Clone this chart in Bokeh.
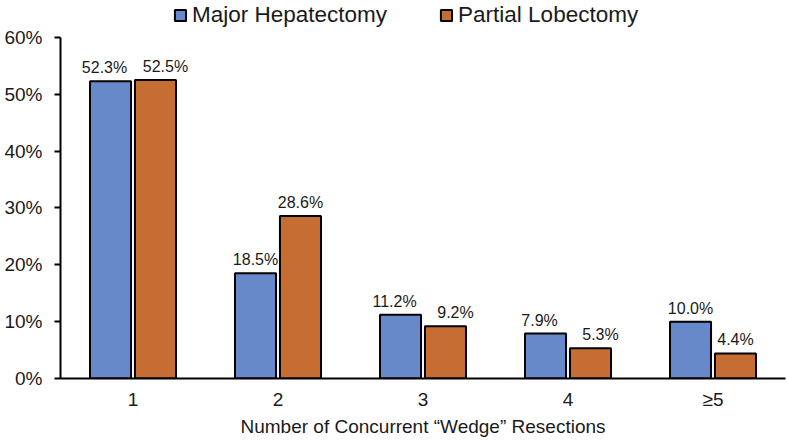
from bokeh.plotting import figure
from bokeh.models import ColumnDataSource, FactorRange, Legend, LegendItem, FixedTicker, CustomJSTickFormatter
from bokeh.transform import dodge
from bokeh.core.properties import value
from bokeh.embed import file_html
from bokeh.resources import INLINE

categories = ["1", "2", "3", "4", "\u22655"]
major_hep = [52.3, 18.5, 11.2, 7.9, 10.0]
partial_lob = [52.5, 28.6, 9.2, 5.3, 4.4]
series_names = ["Major Hepatectomy", "Partial Lobectomy"]
y_ticks = [0, 10, 20, 30, 40, 50, 60]

FONT = "Liberation Sans"
BLUE = "#6788C9"
ORANGE = "#C56D33"
TXT = "#1a1a1a"

# nudge labels apart where the two bars are nearly equal (to avoid overlap)
close = [abs(a - b) < 3 for a, b in zip(major_hep, partial_lob)]
src = ColumnDataSource(dict(
    cat=categories,
    mh=major_hep,
    pl=partial_lob,
    mh_lbl=[f"{v:.1f}%" for v in major_hep],
    pl_lbl=[f"{v:.1f}%" for v in partial_lob],
    mh_dx=[-6 if c else 0 for c in close],
    pl_dx=[10 if c else 0 for c in close],
))

p = figure(x_range=FactorRange(factors=categories, range_padding=0),
           y_range=(0, 66.5), width=787, height=442,
           output_backend="svg", toolbar_location=None,
           min_border_left=60, min_border_right=2, min_border_top=0, min_border_bottom=64)
p.outline_line_color = None
p.grid.grid_line_color = None
p.background_fill_color = "white"

off = 0.155
w = 0.283
r1 = p.vbar(x=dodge("cat", -off, range=p.x_range), top="mh", width=w, source=src,
            fill_color=BLUE, line_color="black", line_width=2)
r2 = p.vbar(x=dodge("cat", off, range=p.x_range), top="pl", width=w, source=src,
            fill_color=ORANGE, line_color="black", line_width=2)

p.text(x=dodge("cat", -off, range=p.x_range), y="mh", text="mh_lbl", source=src,
       x_offset="mh_dx", text_align="center", text_baseline="bottom", y_offset=-5,
       text_font=value(FONT), text_font_size="16px", text_color=TXT)
p.text(x=dodge("cat", off, range=p.x_range), y="pl", text="pl_lbl", source=src,
       x_offset="pl_dx", text_align="center", text_baseline="bottom", y_offset=-5,
       text_font=value(FONT), text_font_size="16px", text_color=TXT)

# y axis
p.yaxis.ticker = FixedTicker(ticks=y_ticks)
p.yaxis.formatter = CustomJSTickFormatter(code="return tick + '%';")
p.yaxis.bounds = (0, 60)
p.yaxis.axis_line_width = 2
p.yaxis.axis_line_color = "black"
p.yaxis.major_tick_line_width = 2
p.yaxis.major_tick_out = 6
p.yaxis.major_tick_in = 0
p.yaxis.minor_tick_line_color = None
p.yaxis.major_label_text_font = FONT
p.yaxis.major_label_text_font_size = "19px"
p.yaxis.major_label_text_color = TXT
p.yaxis.major_label_standoff = 12

# x axis
p.xaxis.axis_line_width = 2
p.xaxis.axis_line_color = "black"
p.xaxis.major_tick_line_color = None
p.xaxis.minor_tick_line_color = None
p.xaxis.major_label_text_font = FONT
p.xaxis.major_label_text_font_size = "19px"
p.xaxis.major_label_text_color = TXT
p.xaxis.major_label_standoff = 4
p.xaxis.axis_label = "Number of Concurrent \u201cWedge\u201d Resections"
p.xaxis.axis_label_text_font = FONT
p.xaxis.axis_label_text_font_size = "19px"
p.xaxis.axis_label_text_font_style = "normal"
p.xaxis.axis_label_text_color = TXT
p.xaxis.axis_label_standoff = 3

legend = Legend(items=[LegendItem(label=series_names[0], renderers=[r1]),
                       LegendItem(label=series_names[1], renderers=[r2])],
                orientation="horizontal", location=(113, 350),
                label_text_font=FONT, label_text_font_size="22.5px", label_text_color=TXT,
                glyph_width=14, glyph_height=14, spacing=52, padding=0, margin=0,
                label_standoff=5, border_line_color=None, background_fill_alpha=0)
p.add_layout(legend, "center")

open("out.html", "w").write(file_html(p, INLINE))
